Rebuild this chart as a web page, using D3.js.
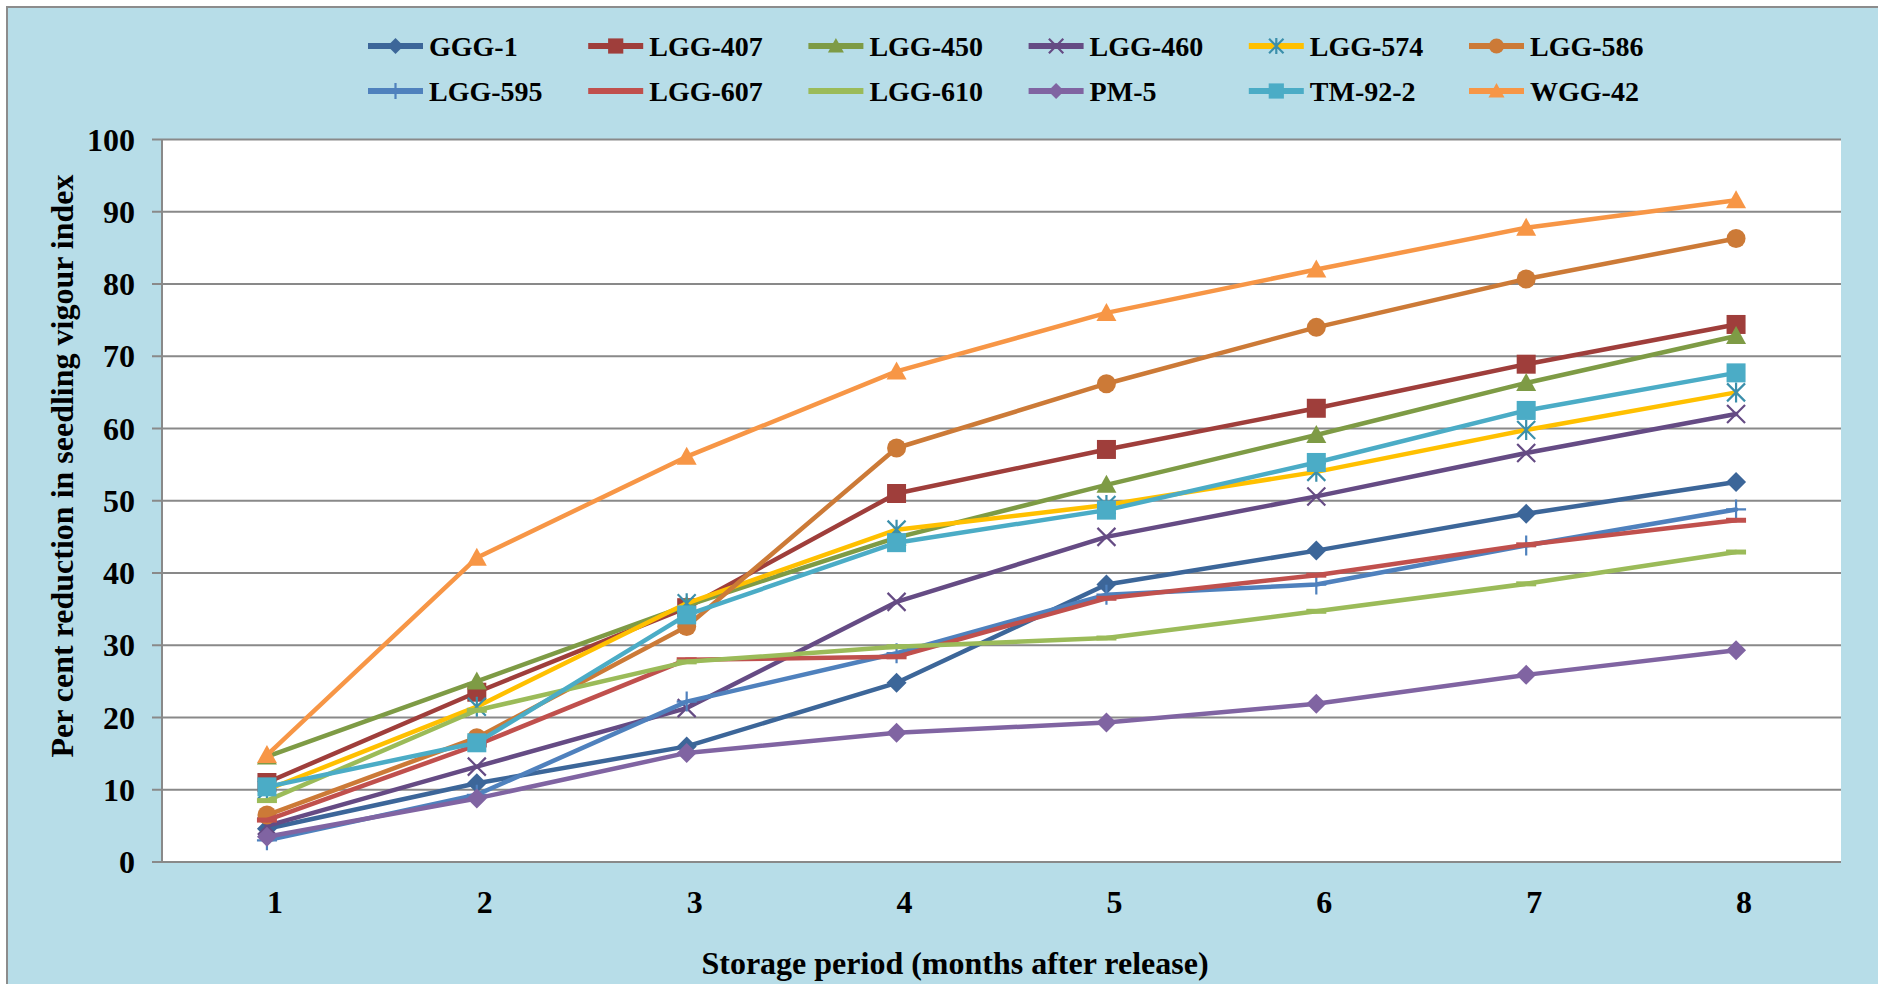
<!DOCTYPE html>
<head>
    <meta charset="utf-8">
    <title>Seedling vigour index reduction</title>
    <script src="https://d3js.org/d3.v7.min.js"></script>
    <style>
        body{
            margin: 0;
            background: #ffffff;
        }
        text{
            font-family: "Liberation Serif", "Times New Roman", serif;
            font-weight: 700;
            fill: #000000;
        }
        text.tickLabel{
            font-size: 32px;
        }
        text.axisTitle{
            font-size: 32px;
        }
        text.legendLabel{
            font-size: 28px;
        }
        line.grid{
            stroke: #898989;
            stroke-width: 2;
        }
        path.series{
            fill: none;
            stroke-width: 4.5;
            stroke-linejoin: round;
            stroke-linecap: round;
        }
    </style>
</head>
<body>
<script>
    // months on the x axis and y ticks
    const months = [1, 2, 3, 4, 5, 6, 7, 8];
    const yTicks = [0, 10, 20, 30, 40, 50, 60, 70, 80, 90, 100];

    // values, one array per entry
    const GGG_1   = [4.6, 10.9, 16.0, 24.8, 38.4, 43.1, 48.2, 52.6];
    const LGG_407 = [11.0, 23.5, 35.2, 51.0, 57.1, 62.8, 68.9, 74.4];
    const LGG_450 = [14.6, 25.0, 35.5, 44.9, 52.2, 59.1, 66.3, 72.8];
    const LGG_460 = [5.0, 13.2, 21.3, 36.0, 45.0, 50.6, 56.6, 62.0];
    const LGG_574 = [10.0, 21.5, 35.8, 46.0, 49.4, 54.0, 59.8, 65.0];
    const LGG_586 = [6.5, 17.2, 32.6, 57.3, 66.2, 74.0, 80.7, 86.3];
    const LGG_595 = [3.0, 9.3, 22.2, 28.9, 37.0, 38.4, 43.8, 48.8];
    const LGG_607 = [5.8, 16.2, 28.0, 28.4, 36.5, 39.7, 43.9, 47.3];
    const LGG_610 = [8.5, 21.0, 27.7, 29.8, 31.0, 34.7, 38.5, 42.9];
    const PM_5    = [3.5, 8.8, 15.1, 17.9, 19.3, 21.9, 25.9, 29.3];
    const TM_92_2 = [10.4, 16.5, 34.2, 44.2, 48.7, 55.3, 62.5, 67.7];
    const WGG_42  = [14.8, 42.1, 56.1, 67.9, 76.0, 82.0, 87.8, 91.6];

    const names = ["GGG-1", "LGG-407", "LGG-450", "LGG-460", "LGG-574", "LGG-586",
                   "LGG-595", "LGG-607", "LGG-610", "PM-5", "TM-92-2", "WGG-42"];
    const valueLists = [GGG_1, LGG_407, LGG_450, LGG_460, LGG_574, LGG_586,
                        LGG_595, LGG_607, LGG_610, PM_5, TM_92_2, WGG_42];

    // excel style line colour, marker colour and marker shape
    const lineColors = ["#3c6699", "#9f3e3b", "#7e9b45", "#654b84", "#ffc000", "#cc7a37",
                        "#4f81bd", "#c0504d", "#9bbb59", "#8064a2", "#4bacc6", "#f79646"];
    const markerColors = ["#3c6699", "#9f3e3b", "#7e9b45", "#654b84", "#3b8fab", "#cc7a37",
                          "#4f81bd", "#c0504d", "#9bbb59", "#8064a2", "#4bacc6", "#f79646"];
    const markers = ["diamond", "square", "triangle", "x", "star", "circle",
                     "plus", "dash", "dash", "diamond", "square", "triangle"];

    const series = names.map((n, i) => ({
        name: n,
        values: valueLists[i].map((v, j) => ({month: months[j], value: v})),
        color: lineColors[i],
        markColor: markerColors[i],
        marker: markers[i]
    }));

    const width = 1878, height = 984;
    const plot = {left: 162, right: 1841, top: 139.5, bottom: 862};

    var svg = d3.select("body").append("svg")
        .attr("width", width)
        .attr("height", height);

    // chart frame
    svg.append("rect")
        .attr("x", 7).attr("y", 7)
        .attr("width", width + 20).attr("height", height + 20)
        .attr("fill", "#b7dde8")
        .attr("stroke", "#8c8c8c")
        .attr("stroke-width", 2);

    svg.append("rect")
        .attr("x", plot.left).attr("y", plot.top)
        .attr("width", plot.right - plot.left)
        .attr("height", plot.bottom - plot.top)
        .attr("fill", "#ffffff");

    let x = d3.scaleBand()
        .domain(months)
        .range([plot.left, plot.right]);

    let y = d3.scaleLinear()
        .domain([0, 100])
        .range([plot.bottom, plot.top]);

    const cx = d => x(d) + x.bandwidth() / 2;

    // grid lines + ticks
    svg.selectAll("line.grid")
        .data(yTicks)
        .enter()
        .append("line")
        .attr("class", "grid")
        .attr("x1", plot.left - 10)
        .attr("x2", plot.right)
        .attr("y1", d => y(d))
        .attr("y2", d => y(d));

    svg.append("line")
        .attr("class", "grid")
        .attr("x1", plot.left).attr("x2", plot.left)
        .attr("y1", plot.top).attr("y2", plot.bottom);

    svg.selectAll("text.yTick")
        .data(yTicks)
        .enter()
        .append("text")
        .attr("class", "tickLabel yTick")
        .attr("x", plot.left - 27)
        .attr("y", d => y(d))
        .attr("dy", "0.35em")
        .style("text-anchor", "end")
        .text(d => d);

    svg.selectAll("text.xTick")
        .data(months)
        .enter()
        .append("text")
        .attr("class", "tickLabel xTick")
        .attr("x", d => cx(d) + 8)
        .attr("y", 902)
        .attr("dy", "0.35em")
        .style("text-anchor", "middle")
        .text(d => d);

    // axis titles
    svg.append("text")
        .attr("class", "axisTitle")
        .attr("transform", "translate(62,466) rotate(-90)")
        .attr("dy", "0.35em")
        .style("text-anchor", "middle")
        .text("Per cent reduction in seedling vigour index");

    svg.append("text")
        .attr("class", "axisTitle")
        .attr("x", 955)
        .attr("y", 963)
        .attr("dy", "0.35em")
        .style("text-anchor", "middle")
        .text("Storage period (months after release)");

    // marker shapes, s = half size
    function markerPath(type, s) {
        const p = d3.path();
        if (type == "diamond") {
            p.moveTo(0, -s); p.lineTo(s, 0); p.lineTo(0, s); p.lineTo(-s, 0); p.closePath();
        } else if (type == "square") {
            p.rect(-s * 0.95, -s * 0.95, s * 1.9, s * 1.9);
        } else if (type == "triangle") {
            p.moveTo(0, -s); p.lineTo(s, s * 0.8); p.lineTo(-s, s * 0.8); p.closePath();
        } else if (type == "circle") {
            p.arc(0, 0, s * 0.95, 0, 2 * Math.PI);
        } else if (type == "x") {
            p.moveTo(-s * 0.9, -s * 0.9); p.lineTo(s * 0.9, s * 0.9);
            p.moveTo(s * 0.9, -s * 0.9); p.lineTo(-s * 0.9, s * 0.9);
        } else if (type == "star") {
            p.moveTo(-s * 0.9, -s * 0.9); p.lineTo(s * 0.9, s * 0.9);
            p.moveTo(s * 0.9, -s * 0.9); p.lineTo(-s * 0.9, s * 0.9);
            p.moveTo(0, -s); p.lineTo(0, s);
        } else if (type == "plus") {
            p.moveTo(-s, 0); p.lineTo(s, 0);
            p.moveTo(0, -s); p.lineTo(0, s);
        } else if (type == "dash") {
            p.rect(-s, -2.5, s * 2, 5);
        }
        return p.toString();
    }
    const isOpen = t => t == "x" || t == "star" || t == "plus";

    function drawMarker(sel, d, s) {
        sel.append("path")
            .attr("d", markerPath(d.marker, s))
            .attr("fill", isOpen(d.marker) ? "none" : d.markColor)
            .attr("stroke", isOpen(d.marker) ? d.markColor : "none")
            .attr("stroke-width", isOpen(d.marker) ? 2.2 : 0);
    }

    let line = d3.line()
        .x(d => cx(d.month))
        .y(d => y(d.value));

    // each series: line then its markers, later series on top
    series.forEach(s => {
        let g = svg.append("g").attr("class", "seriesGroup");
        g.append("path")
            .attr("class", "series")
            .attr("d", line(s.values))
            .attr("stroke", s.color);
        g.selectAll("g.pt")
            .data(s.values)
            .enter()
            .append("g")
            .attr("class", "pt")
            .attr("transform", d => `translate(${cx(d.month)},${y(d.value)})`)
            .each(function() { drawMarker(d3.select(this), s, 10); });
    });

    // legend, 6 per row
    const legCol0 = 368, legColStep = 220.2, legRows = [46, 91];
    let legend = svg.selectAll("g.legendItem")
        .data(series)
        .enter()
        .append("g")
        .attr("class", "legendItem")
        .attr("transform", (d, i) => `translate(${legCol0 + (i % 6) * legColStep},${legRows[Math.floor(i / 6)]})`);

    legend.append("line")
        .attr("x1", 0).attr("x2", 55)
        .attr("stroke", d => d.color)
        .attr("stroke-width", 6);

    legend.append("g")
        .attr("transform", "translate(27.5,0)")
        .each(function(d) { drawMarker(d3.select(this), d, 8); });

    legend.append("text")
        .attr("class", "legendLabel")
        .attr("x", 61)
        .attr("dy", "0.35em")
        .text(d => d.name);
</script>
</body>
